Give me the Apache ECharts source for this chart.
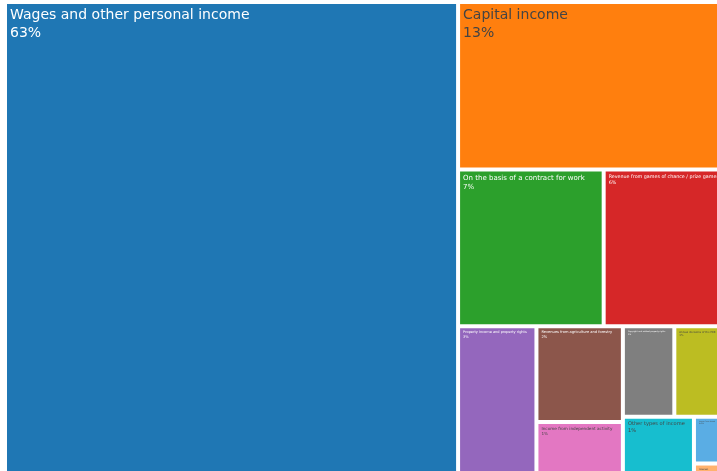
<!DOCTYPE html>
<html>
<head>
<meta charset="utf-8">
<script src="https://cdn.jsdelivr.net/npm/echarts@6/dist/echarts.min.js"></script>
<style>
  html, body { margin: 0; padding: 0; background: #fff; }
  #chart { width: 717px; height: 471px; }
</style>
</head>
<body>
<div id="chart"></div>
<script>
// Structure of personal income (share of total, %)
const categories = [
  'Wages and other personal income',
  'Capital income',
  'On the basis of a contract for work',
  'Revenue from games of chance / prize games',
  'Property income and property rights',
  'Revenues from agriculture and forestry',
  'Income from independent activity',
  'Copyright and related property rights',
  'Annual decisions of the PRB',
  'Other types of income',
  'Income from abroad',
  'Interest'
];
const shares = [62.7, 12.95, 6.6, 5.5, 3.49, 2.4, 1.45, 1.35, 1.33, 1.3, 0.42, 0.148];

// Tile colours and label styling, in the same order as the categories
const palette = ['#1f77b4', '#ff7f0e', '#2ca02c', '#d62728', '#9467bd', '#8c564b',
                 '#e377c2', '#7f7f7f', '#bcbd22', '#17becf', '#5aade4', '#ffb26e'];
const labelSize = [14, 14, 7, 4.8, 3.5, 3.6, 4.2, 2, 2.6, 5.1, 1.6, 2.4];
const labelDark = [false, true, false, false, false, false, true, false, true, true, true, true];

function pctText(v) {
  if (v >= 1) return Math.round(v) + '%';
  return parseFloat(v.toFixed(3)) + '%';
}

const seriesData = categories.map((name, i) => ({
  name: name,
  value: shares[i],
  itemStyle: { color: palette[i] },
  label: {
    fontSize: labelSize[i],
    lineHeight: labelSize[i] * 1.3,
    color: labelDark[i] ? '#444' : '#fff',
    formatter: name + '\n' + pctText(shares[i])
  }
}));

const chart = echarts.init(document.getElementById('chart'), null, { renderer: 'canvas' });
chart.setOption({
  animation: false,
  textStyle: { fontFamily: 'DejaVu Sans' },
  series: [{
    type: 'treemap',
    left: 7,
    top: 4,
    width: 716,
    height: 474,
    squareRatio: 1,
    roam: false,
    nodeClick: false,
    breadcrumb: { show: false },
    visibleMin: 1,
    label: {
      show: true,
      position: [3, 2],
      padding: 0,
      overflow: 'none',
      fontFamily: 'DejaVu Sans'
    },
    upperLabel: { show: false },
    itemStyle: { borderWidth: 0, gapWidth: 0 },
    levels: [
      { itemStyle: { borderWidth: 0, gapWidth: 4 } }
    ],
    data: seriesData
  }]
});
</script>
</body>
</html>
